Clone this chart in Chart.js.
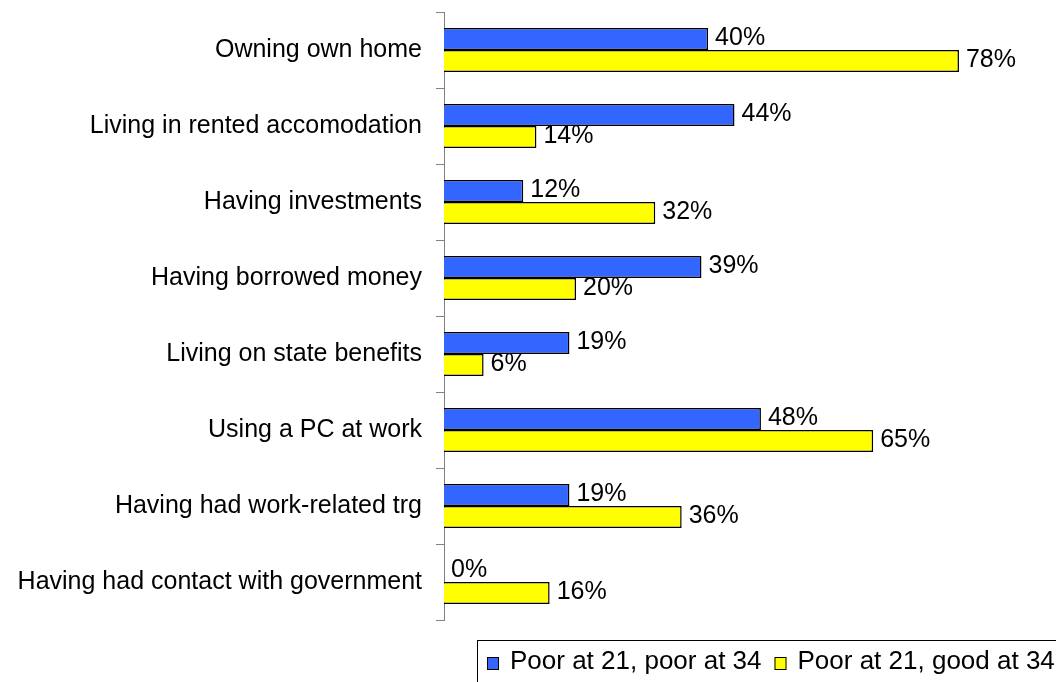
<!DOCTYPE html>
<html>
<head>
<meta charset="utf-8">
<script src="https://cdn.jsdelivr.net/npm/chart.js@4"></script>
<style>
  html, body { margin: 0; padding: 0; background: #fff; }
  canvas { display: block; }
</style>
</head>
<body>
<canvas id="barChart" width="1056" height="682"></canvas>
<script>
const categories = [
    'Owning own home',
    'Living in rented accomodation',
    'Having investments',
    'Having borrowed money',
    'Living on state benefits',
    'Using a PC at work',
    'Having had work-related trg',
    'Having had contact with government'
];
const poorPoor = [40, 44, 12, 39, 19, 48, 19, 0];
const poorGood = [78, 14, 32, 20, 6, 65, 36, 16];
const seriesNames = ['Poor at 21, poor at 34', 'Poor at 21, good at 34'];
const seriesColors = ['#3366FF', '#FFFF00'];

const fontFamily = '"Liberation Sans", Arial, sans-serif';

// percent labels just right of each bar end
const valueLabels = {
    id: 'valueLabels',
    afterDatasetsDraw(chart) {
        const ctx = chart.ctx;
        ctx.save();
        ctx.font = '25px ' + fontFamily;
        ctx.fillStyle = '#000';
        ctx.textBaseline = 'middle';
        ctx.textAlign = 'left';
        chart.data.datasets.forEach((ds, di) => {
            chart.getDatasetMeta(di).data.forEach((bar, i) => {
                ctx.fillText(ds.data[i] + '%', bar.x + 7, bar.y - 1);
            });
        });
        ctx.restore();
    }
};

// boxed legend in the bottom right corner
const boxLegend = {
    id: 'boxLegend',
    afterDraw(chart) {
        const ctx = chart.ctx;
        ctx.save();
        ctx.strokeStyle = '#000';
        ctx.lineWidth = 1;
        ctx.strokeRect(477.5, 640.5, 700, 100);
        ctx.font = '26px ' + fontFamily;
        ctx.textBaseline = 'alphabetic';
        let x = 487;
        chart.data.datasets.forEach((ds) => {
            ctx.fillStyle = ds.backgroundColor;
            ctx.fillRect(x, 657, 12, 13);
            ctx.strokeRect(x + 0.5, 657.5, 11, 12);
            ctx.fillStyle = '#000';
            ctx.fillText(ds.label, x + 23, 669);
            x += 23 + ctx.measureText(ds.label).width + 13;
        });
        ctx.restore();
    }
};

const chart = new Chart(document.getElementById('barChart'), {
    type: 'bar',
    data: {
        labels: categories,
        datasets: [
            {
                label: seriesNames[0],
                data: poorPoor,
                backgroundColor: seriesColors[0],
                borderColor: '#000',
                borderWidth: 1.5,
                categoryPercentage: 0.58,
                barPercentage: 1.0
            },
            {
                label: seriesNames[1],
                data: poorGood,
                backgroundColor: seriesColors[1],
                borderColor: '#000',
                borderWidth: 1.5,
                categoryPercentage: 0.58,
                barPercentage: 1.0
            }
        ]
    },
    options: {
        indexAxis: 'y',
        responsive: false,
        animation: false,
        devicePixelRatio: 1,
        layout: {
            padding: { top: 12, bottom: 62, left: 0, right: 0 }
        },
        plugins: {
            legend: { display: false },
            tooltip: { enabled: false }
        },
        scales: {
            x: {
                display: false,
                min: 0,
                max: 92.7
            },
            y: {
                grid: {
                    drawOnChartArea: false,
                    drawTicks: true,
                    tickLength: 8,
                    color: '#808080',
                    offset: true
                },
                border: { display: true, color: '#808080' },
                ticks: {
                    color: '#000',
                    padding: 14,
                    font: { size: 25, family: fontFamily }
                },
                afterFit(scale) {
                    scale.width = 444;
                    scale.paddingTop = 0;
                    scale.paddingBottom = 0;
                }
            }
        }
    },
    plugins: [valueLabels, boxLegend]
});
</script>
</body>
</html>
